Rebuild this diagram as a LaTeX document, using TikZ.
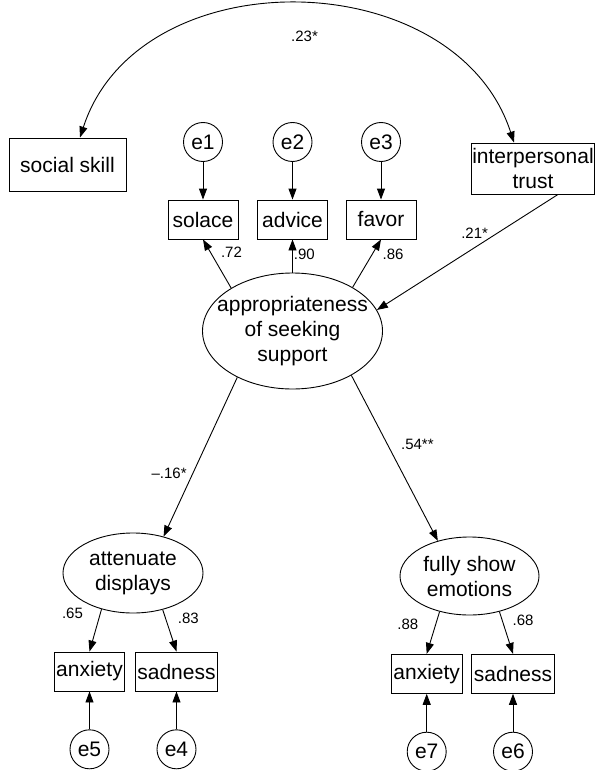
\documentclass[tikz,border=0pt]{standalone}
\usepackage{fontspec}
\setmainfont{Liberation Sans}
\usepackage{tikz}
\usetikzlibrary{arrows.meta,shapes.geometric}

\begin{document}
\begin{tikzpicture}[x=1pt,y=1pt,line width=0.9pt,>={Triangle[length=11pt,width=8pt]},
	font=\fontsize{21}{25}\selectfont,
	box/.style={draw,rectangle,minimum width=70pt,minimum height=39pt,inner xsep=2pt,inner ysep=0pt},
	err/.style={draw,circle,minimum size=39pt,inner sep=0pt},
	latent/.style={draw,ellipse,inner sep=0pt},
	coef/.style={font=\fontsize{15}{18}\selectfont,inner sep=0pt}]
		\useasboundingbox (0,0) rectangle (596,-770);
		
		\node[box,minimum width=117pt,minimum height=53pt] (ss) at (67.5,-164.5) {social skill};
		\node[box,minimum width=122pt,minimum height=51pt,inner xsep=0.5pt,align=center] (trust) at (533,-168.5) {interpersonal\\trust};
		
		\node[err] (e1) at (203,-142) {e1};
		\node[err] (e2) at (292.5,-142) {e2};
		\node[err] (e3) at (381,-142) {e3};
		\node[box] (solace) at (203,-219.5) {solace};
		\node[box] (advice) at (292.5,-219.5) {advice};
		\node[box] (favor) at (381,-219.5) {favor};
		
		\node[latent,minimum width=180pt,minimum height=116pt,label={[align=center]center:appropriateness\\of seeking\\support}] (app) at (292.5,-331) {};
		
		\node[latent,minimum width=140pt,minimum height=80pt,label={[align=center]center:attenuate\\displays}] (att) at (133,-573) {};
		\node[latent,minimum width=139pt,minimum height=78pt,label={[align=center]center:fully show\\emotions}] (full) at (469.5,-576) {};
		
		\node[box] (anx1) at (89.5,-671.5) {anxiety};
		\node[box] (sad1) at (176.5,-671.5) {sadness};
		\node[box] (anx2) at (426.7,-673.8) {anxiety};
		\node[box] (sad2) at (513,-673.8) {sadness};
		
		\node[err] (e5) at (89.5,-749.3) {e5};
		\node[err] (e4) at (176.5,-749.3) {e4};
		\node[err] (e7) at (426.7,-751.7) {e7};
		\node[err] (e6) at (513,-751.7) {e6};
		
		\draw[<->] ([xshift=12.5pt]ss.north) .. controls +(72:190) and +(108:190) .. ([xshift=-19pt]trust.north) node[coef,pos=0.5,below=26pt,xshift=7.5pt] {.23*};
		
		\draw[->] (e1) -- (solace);
		\draw[->] (e2) -- (advice);
		\draw[->] (e3) -- (favor);
		
		\draw[->] (app.145) -- node[coef,pos=0.73,right=10pt] {.72} (solace.south);
		\draw[->] (app.90) -- node[coef,pos=0.56,right=1pt] {.90} (advice.south);
		\draw[->] (app.36) -- node[coef,pos=0.69,right=10pt] {.86} (favor.south);
		
		\draw[->] ([xshift=25pt]trust.south) -- node[coef,pos=0.34,left=8pt] {.21*} (app.14);
		
		\draw[->] (app.220) -- node[coef,pos=0.6,left=6pt] {--.16*} (att.50);
		\draw[->] (app.323) -- node[coef,pos=0.42,right=13pt] {.54**} (full.132);
		
		\draw[->] (att.229) -- node[coef,pos=0.1,left=17pt] {.65} (anx1.north);
		\draw[->] (att.309) -- node[coef,pos=0.2,right=12pt] {.83} (sad1.north);
		\draw[->] (full.230) -- node[coef,pos=0.3,left=17pt] {.88} (anx2.north);
		\draw[->] (full.310) -- node[coef,pos=0.2,right=10pt] {.68} (sad2.north);
		
		\draw[->] (e5) -- (anx1);
		\draw[->] (e4) -- (sad1);
		\draw[->] (e7) -- (anx2);
		\draw[->] (e6) -- (sad2);
		
	\end{tikzpicture}
\end{document}
